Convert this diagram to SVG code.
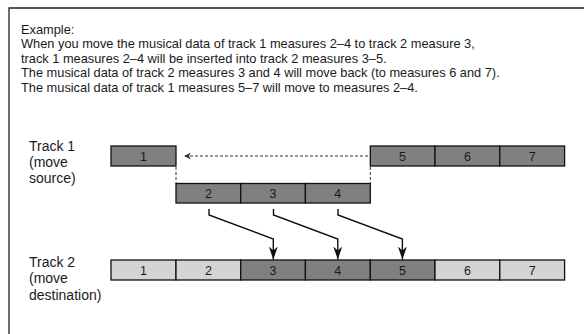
<svg xmlns="http://www.w3.org/2000/svg" width="584" height="334" viewBox="0 0 584 334">
<style>
text{font-family:"Liberation Sans",Arial,sans-serif;font-size:12.5px;fill:#1a1a1a}
.cap{font-size:12.8px}
.lbl{font-size:14px}
.dk{fill:#808080;stroke:#111;stroke-width:1.3}
.lt{fill:#d4d4d4;stroke:#111;stroke-width:1.3}
.n{text-anchor:middle}
.arr{fill:none;stroke:#111;stroke-width:1.4}
.dash{fill:none;stroke:#333;stroke-width:1;stroke-dasharray:3 2}
</style>
<defs>
<marker id="ah" viewBox="0 0 13 9" refX="13" refY="4.5" markerWidth="13" markerHeight="9" markerUnits="userSpaceOnUse" orient="auto">
<path d="M0,0 L13,4.5 L0,9 L4,4.5 Z" fill="#111"/>
</marker>
<marker id="ahs" viewBox="0 0 10 10" refX="10" refY="5" markerWidth="7" markerHeight="7" markerUnits="userSpaceOnUse" orient="auto">
<path d="M0,0 L10,5 L0,10 L3,5 Z" fill="#333"/>
</marker>
</defs>
<rect width="584" height="334" fill="#fff"/>
<path d="M9,334 V8 H584" fill="none" stroke="#222" stroke-width="1.3"/>
<g id="caption">
<text class="cap" x="21" y="33.5">Example:</text>
<text class="cap" x="21" y="48">When you move the musical data of track 1 measures 2–4 to track 2 measure 3,</text>
<text class="cap" x="21" y="62.5">track 1 measures 2–4 will be inserted into track 2 measures 3–5.</text>
<text class="cap" x="21" y="77">The musical data of track 2 measures 3 and 4 will move back (to measures 6 and 7).</text>
<text class="cap" x="21" y="91.5">The musical data of track 1 measures 5–7 will move to measures 2–4.</text>
</g>
<g id="track1-label">
<text class="lbl" x="29" y="150.5">Track 1</text>
<text class="lbl" x="29" y="167">(move</text>
<text class="lbl" x="29" y="183">source)</text>
</g>
<g id="track2-label">
<text class="lbl" x="29" y="266.5">Track 2</text>
<text class="lbl" x="29" y="283">(move</text>
<text class="lbl" x="29" y="299.5">destination)</text>
</g>
<g id="track1">
<g id="t1-1"><rect class="dk" x="111" y="146" width="65" height="20"/><text class="n" x="143.5" y="160.5">1</text></g>
<g id="t1-5"><rect class="dk" x="370.3" y="146" width="64.7" height="20"/><text class="n" x="402.6" y="160.5">5</text></g>
<g id="t1-6"><rect class="dk" x="435" y="146" width="64.8" height="20"/><text class="n" x="467.4" y="160.5">6</text></g>
<g id="t1-7"><rect class="dk" x="499.8" y="146" width="64.8" height="20"/><text class="n" x="532.2" y="160.5">7</text></g>
<g id="t1-2"><rect class="dk" x="176" y="183.5" width="64.7" height="19.5"/><text class="n" x="208.4" y="197.8">2</text></g>
<g id="t1-3"><rect class="dk" x="240.7" y="183.5" width="64.7" height="19.5"/><text class="n" x="273" y="197.8">3</text></g>
<g id="t1-4"><rect class="dk" x="305.4" y="183.5" width="64.9" height="19.5"/><text class="n" x="337.8" y="197.8">4</text></g>
</g>
<g id="track2">
<g id="t2-1"><rect class="lt" x="111" y="260" width="65" height="20"/><text class="n" x="143.5" y="274.5">1</text></g>
<g id="t2-2"><rect class="lt" x="176" y="260" width="64.7" height="20"/><text class="n" x="208.4" y="274.5">2</text></g>
<g id="t2-3"><rect class="dk" x="240.7" y="260" width="64.7" height="20"/><text class="n" x="273" y="274.5">3</text></g>
<g id="t2-4"><rect class="dk" x="305.4" y="260" width="64.9" height="20"/><text class="n" x="337.8" y="274.5">4</text></g>
<g id="t2-5"><rect class="dk" x="370.3" y="260" width="64.7" height="20"/><text class="n" x="402.6" y="274.5">5</text></g>
<g id="t2-6"><rect class="lt" x="435" y="260" width="64.8" height="20"/><text class="n" x="467.4" y="274.5">6</text></g>
<g id="t2-7"><rect class="lt" x="499.8" y="260" width="64.8" height="20"/><text class="n" x="532.2" y="274.5">7</text></g>
</g>
<g id="connectors">
<path class="dash" d="M368,156 H184" marker-end="url(#ahs)"/>
<path class="dash" d="M176,167 V183"/>
<path class="dash" d="M370.3,167 V183"/>
<path class="arr" d="M209,209 V215 L273.3,239 V259.5" marker-end="url(#ah)"/>
<path class="arr" d="M273.5,209 V215 L337.8,239 V259.5" marker-end="url(#ah)"/>
<path class="arr" d="M338,209 V215 L402.4,239 V259.5" marker-end="url(#ah)"/>
</g>
</svg>
